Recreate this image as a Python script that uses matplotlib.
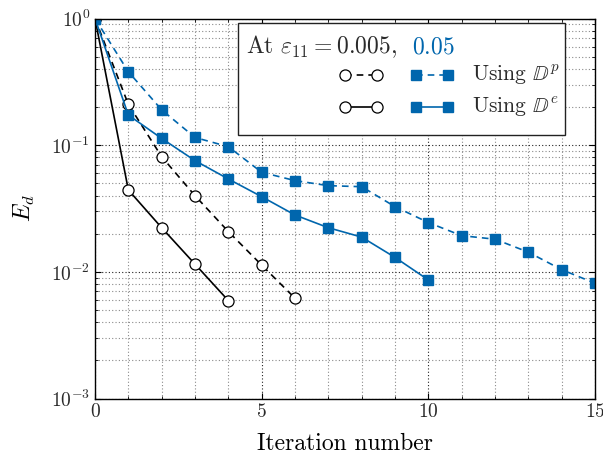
import matplotlib
matplotlib.use("Agg")
import matplotlib.pyplot as plt
from matplotlib.lines import Line2D
from matplotlib.patches import Rectangle
from matplotlib.ticker import MultipleLocator, LogLocator, NullFormatter

plt.rcParams.update({
    "font.family": "serif",
    "font.serif": ["cmr10"],
    "mathtext.fontset": "cm",
    "axes.formatter.use_mathtext": True,
    "axes.unicode_minus": True,
    "text.color": "#2a2a2a",
    "xtick.labelcolor": "#2a2a2a",
    "ytick.labelcolor": "#2a2a2a",
})

BLUE = "#0066ad"

# Error norm E_d per iteration
iter_small_p = [0, 1, 2, 3, 4, 5, 6]
err_small_p = [1.0, 0.210, 0.0811, 0.0399, 0.0208, 0.0113, 0.00619]

iter_small_e = [0, 1, 2, 3, 4]
err_small_e = [1.0, 0.0443, 0.0223, 0.0115, 0.00593]

iter_large_p = list(range(16))
err_large_p = [1.0, 0.380, 0.190, 0.115, 0.0973, 0.0611, 0.0525, 0.0479,
               0.0470, 0.0327, 0.0245, 0.0193, 0.0181, 0.0143, 0.0104, 0.00813]

iter_large_e = list(range(11))
err_large_e = [1.0, 0.173, 0.113, 0.0755, 0.0541, 0.0392, 0.0281, 0.0223,
               0.0188, 0.0130, 0.00863]

fig = plt.figure(figsize=(6.03, 4.57), dpi=100)
ax = fig.add_axes([95 / 603, 1 - 398.5 / 457, 500 / 603, 380 / 457])

circ = dict(marker="o", ms=8, mfc="white", mec="black", mew=0.9, color="black", lw=1.2)
sq = dict(marker="s", ms=7, mfc=BLUE, mec=BLUE, color=BLUE, lw=1.2)

ax.plot(iter_small_p, err_small_p, ls=(0, (4, 3)), **circ)
ax.plot(iter_small_e, err_small_e, ls="-", **circ)
ax.plot(iter_large_p, err_large_p, ls=(0, (4, 3)), **sq)
ax.plot(iter_large_e, err_large_e, ls="-", **sq)

ax.set_yscale("log")
ax.set_xlim(0, 15)
ax.set_ylim(1e-3, 1.0)
ax.xaxis.set_major_locator(MultipleLocator(5))
ax.xaxis.set_minor_locator(MultipleLocator(1))
ax.yaxis.set_major_locator(LogLocator(base=10, numticks=10))
ax.yaxis.set_minor_locator(LogLocator(base=10, subs=range(2, 10), numticks=20))
ax.yaxis.set_minor_formatter(NullFormatter())

ax.grid(True, which="major", ls=(0, (1, 2)), color="#222222", lw=0.8)
ax.grid(True, which="minor", ls=(0, (1, 2)), color="#8a8a8a", lw=0.8)
ax.set_axisbelow(True)
ax.tick_params(which="both", direction="in", top=True, right=True, labelsize=14)
ax.tick_params(which="major", length=4)
ax.tick_params(which="minor", length=2)
for s in ax.spines.values():
    s.set_linewidth(1.0)

ax.set_xlabel("Iteration number", fontsize=17, labelpad=8)
ax.set_ylabel(r"$E_d$", fontsize=17, labelpad=10)

# Legend block
T = ax.transAxes
ax.add_patch(Rectangle((0.2866, 0.693), 0.6534, 0.294, transform=T, fill=True,
                       fc="white", ec="#222222", lw=1.0, zorder=5))
ax.text(0.303, 0.908, r"At $\varepsilon_{11} = 0.005,$", transform=T,
        fontsize=17, va="baseline", ha="left", zorder=6)
ax.text(0.633, 0.908, r"$0.05$", transform=T, color=BLUE,
        fontsize=17, va="baseline", ha="left", zorder=6)

rows = [(0.851, (0, (4, 3)), r"Using $\mathbb{D}^p$"),
        (0.766, "-", r"Using $\mathbb{D}^e$")]
for y, ls, label in rows:
    ax.add_line(Line2D([0.50, 0.563], [y, y], transform=T, ls=ls, zorder=6,
                       **circ))
    ax.add_line(Line2D([0.642, 0.705], [y, y], transform=T, ls=ls, zorder=6,
                       **sq))
    ax.text(0.753, y, label, transform=T, fontsize=15.5, va="center", ha="left",
            zorder=6)

fig.savefig("out.png", dpi=100)
